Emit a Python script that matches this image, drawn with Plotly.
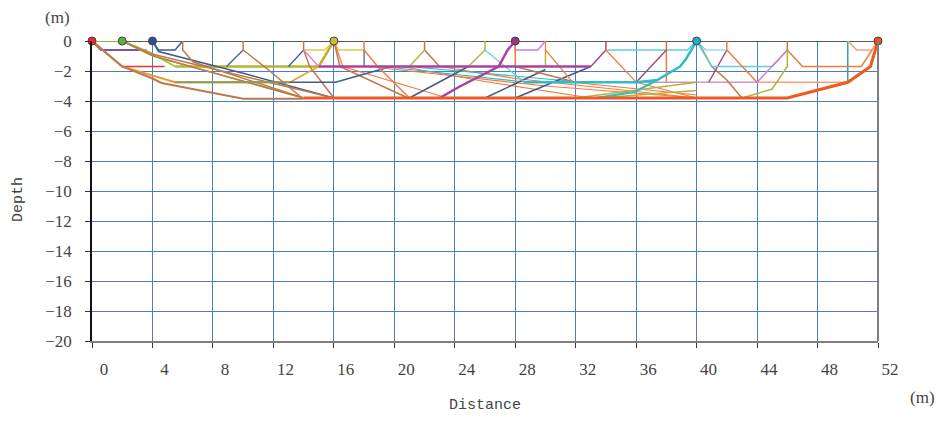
import plotly.graph_objects as go

# ---------------- data (distance m, depth m) ----------------
x_ticks = [0, 4, 8, 12, 16, 20, 24, 28, 32, 36, 40, 44, 48, 52]
y_ticks = [0, -2, -4, -6, -8, -10, -12, -14, -16, -18, -20]

source_x = [0, 2, 4, 16, 28, 40, 52]
source_y = [0, 0, 0, 0, 0, 0, 0]

surface_x = [0, 52]
surface_y = [0, 0]

# ray paths: name -> (distances, depths)
paths = {
    "s0_s2": ([0, 2], [0, 0]),
    "s0_purple": ([0, 0.6, 3.6], [0, -0.6, -0.6]),
    "s0_red": ([0, 2, 4.8], [0, -1.7, -1.7]),
    "s0_gold": ([0, 2, 5.5, 13.1], [0, -1.7, -2.75, -2.75]),
    "s0_bottom": ([0, 2, 4, 4.6, 10, 14], [0, -1.7, -2.5, -2.8, -3.85, -3.85]),
    "s2_lime": ([2, 3.9, 5.5], [0, -0.8, -1.7]),
    "s2_olive": ([5.5, 15, 16], [-1.7, -1.7, 0]),
    "s4_r6": ([4, 4.4, 5.5, 6], [0, -0.6, -0.6, 0]),
    "fan_blue": ([4, 4.4, 10, 16], [0, -0.7, -2.15, -3.8]),
    "fan_brown1": ([2, 3.9, 16], [0, -0.85, -3.8]),
    "fan_olive": ([2, 3.9, 14], [0, -0.95, -3.8]),
    "fan_brown2": ([2, 4.2, 14], [0, -1.05, -3.8]),
    "r6_brown": ([6, 6, 6.7, 14], [0, -0.6, -1.4, -3.8]),
    "og_l3": ([5.5, 13.1], [-2.75, -2.75]),
    "r10_blue": ([8.9, 10], [-1.7, -0.6]),
    "r10_brown": ([10, 10, 11.7, 13.9], [0, -0.6, -1.95, -3.8]),
    "r14_brown": ([14, 14, 14.4, 16], [0, -0.6, -1.7, -3.8]),
    "r14_blue": ([13, 14], [-1.7, -0.6]),
    "r14_lmag": ([14, 15], [-0.6, -1.7]),
    "s16_yellow1": ([16, 15.4, 14], [0, -0.6, -0.6]),
    "s16_gold": ([16, 15, 13.1], [0, -1.7, -2.75]),
    "s16_yellow2": ([16, 16.3, 18], [0, -0.6, -0.6]),
    "s16_brown": ([16, 16.4, 20.9], [0, -1.7, -3.8]),
    "s16_orange": ([16, 16.6, 23.5], [0, -1.7, -3.8]),
    "l3_blue": ([13.1, 16.1, 19.8], [-2.75, -2.75, -1.7]),
    "r18_blue": ([18, 18], [-0.6, -1.7]),
    "r18_orange": ([18, 18, 18.9, 21], [0, -0.6, -1.7, -3.8]),
    "x_orange1": ([19.2, 30, 40], [-1.8, -3.0, -3.8]),
    "x_orange2": ([23, 28, 40], [-1.7, -2.5, -3.8]),
    "x_orange3": ([20.5, 26, 33], [-1.7, -2.7, -3.8]),
    "x_cyan1": ([19.2, 28.8], [-1.7, -2.75]),
    "x_cyan2": ([21.5, 33], [-1.75, -2.8]),
    "r22_brown": ([22, 22, 23], [0, -0.6, -1.7]),
    "r22_olive": ([21, 22], [-1.7, -0.6]),
    "up_blue1": ([21, 24.9], [-3.8, -1.7]),
    "r26_olive": ([24.9, 26, 26], [-1.7, -0.6, 0]),
    "up_blue2": ([26, 30], [-3.8, -1.9]),
    "up_blue3": ([28, 33], [-3.8, -1.7]),
    "r26_cyan": ([26, 27.3, 28.6], [-0.6, -1.7, -2.75]),
    "s28_lmag": ([28, 28, 29.5, 30], [0, -0.6, -0.6, 0]),
    "s28_orange": ([28, 28], [0, -1.7]),
    "s28_brown": ([28, 32], [-1.7, -2.75]),
    "r30_olive": ([30, 30], [-0.6, -1.7]),
    "r30_orange": ([30, 30, 31.8, 40], [0, -0.6, -2.75, -3.6]),
    "r34_mauve": ([33, 34, 34], [-1.7, -0.6, 0]),
    "r34_orange": ([34, 36, 40], [-0.6, -2.75, -3.8]),
    "s40_lcyan": ([34.1, 39.4, 40], [-0.6, -0.6, 0]),
    "r38_brown": ([38, 38], [0, -0.6]),
    "r38_orange": ([38, 38], [-0.6, -2.75]),
    "r38_mauve": ([38, 36], [-0.6, -2.75]),
    "l3_lpurple": ([36, 44], [-2.75, -2.75]),
    "l3_salmon": ([44, 50], [-2.75, -2.75]),
    "up_olive1": ([32, 36, 40], [-3.8, -3.3, -2.75]),
    "up_olive2": ([33.5, 40], [-3.8, -3.3]),
    "s40_brown": ([40, 40.4, 41, 42, 43], [0, -0.6, -1.7, -2.6, -3.8]),
    "r42_mauve": ([42, 41.4, 40.8], [-0.6, -1.7, -2.75]),
    "s40_lcyan2": ([40, 40.6, 41.9], [0, -0.6, -0.6]),
    "s40_cyan2": ([40, 41, 45, 46], [0, -1.7, -1.7, -0.6]),
    "r42_orange": ([42, 42, 44], [0, -0.6, -2.75]),
    "r46_mag": ([44, 46], [-2.75, -0.6]),
    "r46_olive": ([43, 45, 46, 46], [-3.8, -3.2, -1.7, -0.6]),
    "r46_brown": ([46, 46], [0, -0.6]),
    "s52_orange": ([46, 47, 50.9, 52], [-0.6, -1.7, -1.7, 0]),
    "r50_teal": ([50, 50], [0, -2.75]),
    "s52_salmon": ([50, 50.6, 51.6, 52], [0, -0.6, -0.6, 0]),
    "s28_mag": ([28, 27.5, 26.9, 24.3, 23], [0, -0.6, -1.7, -3.05, -3.8]),
    "l2_magenta": ([15, 33], [-1.7, -1.7]),
    "s40_cyan": ([40, 39.3, 38.9, 37.4, 36, 28.6], [0, -1.2, -1.7, -2.6, -2.75, -2.75]),
    "s40_cyan_low": ([37.4, 35.9, 33.3], [-2.6, -3.4, -3.8]),
    "l4_thick": ([14, 46, 50, 51.5, 52], [-3.8, -3.8, -2.75, -1.7, 0]),
}

# ---------------- styles ----------------
C = dict(
    ORT="#F05A1E", OR="#F47A3C", SAL="#F5A07A", BR="#C0784A", OL="#B4B43A",
    YE="#D8CC4A", GO="#E0A030", DB="#3E5C8C", MG="#A8429E", LM="#D27CCB",
    CY="#2FBCC8", LC="#5ED0DA", TE="#3C9FA8", RD="#FF2A2A", GR="#7CBE3C",
    LI="#A6C83E", PU="#7C52A2", MV="#9A5080", LP="#CC98CC", OG="#8E9A5A",
)
style = {
    "s0_s2": ("GR", 2), "s0_purple": ("PU", 2), "s0_red": ("RD", 1.5),
    "s0_gold": ("GO", 2), "s0_bottom": ("BR", 2), "s2_lime": ("LI", 2),
    "s2_olive": ("OL", 2.5), "s4_r6": ("DB", 1.5), "fan_blue": ("DB", 1.5),
    "fan_brown1": ("BR", 1.5), "fan_olive": ("OL", 1.5), "fan_brown2": ("BR", 1.5),
    "r6_brown": ("BR", 1.5), "og_l3": ("OG", 2), "r10_blue": ("DB", 1.2),
    "r10_brown": ("BR", 1.5), "r14_brown": ("BR", 1.5), "r14_blue": ("DB", 1.2),
    "r14_lmag": ("LM", 1.2), "s16_yellow1": ("YE", 1.5), "s16_gold": ("GO", 1.5),
    "s16_yellow2": ("YE", 1.5), "s16_brown": ("BR", 1.5), "s16_orange": ("OR", 1.2),
    "l3_blue": ("DB", 1.5), "r18_blue": ("DB", 1.2), "r18_orange": ("OR", 1.5),
    "x_orange1": ("OR", 1.2), "x_orange2": ("OR", 1.2), "x_orange3": ("OR", 1.2),
    "x_cyan1": ("CY", 1.2), "x_cyan2": ("CY", 1.2), "r22_brown": ("BR", 1.5),
    "r22_olive": ("OL", 1.5), "up_blue1": ("DB", 1.5), "r26_olive": ("OL", 1.5),
    "up_blue2": ("DB", 1.5), "up_blue3": ("DB", 1.5), "r26_cyan": ("LC", 1.2),
    "s28_lmag": ("LM", 1.5), "s28_orange": ("OR", 1.5), "s28_brown": ("BR", 1.5),
    "r30_olive": ("OL", 1.5), "r30_orange": ("OR", 1.2), "r34_mauve": ("MV", 1.5),
    "r34_orange": ("OR", 1.2), "s40_lcyan": ("LC", 1.5), "r38_brown": ("BR", 1.5),
    "r38_orange": ("OR", 1.5), "r38_mauve": ("MV", 1.5), "l3_lpurple": ("LP", 1.5),
    "l3_salmon": ("SAL", 1.5), "up_olive1": ("OL", 1.5), "up_olive2": ("OL", 1.5),
    "s40_brown": ("BR", 1.5), "r42_mauve": ("MV", 1.5), "s40_lcyan2": ("LC", 1.2),
    "s40_cyan2": ("LC", 1.5), "r42_orange": ("OR", 1.5), "r46_mag": ("LM", 1.5),
    "r46_olive": ("OL", 1.5), "r46_brown": ("BR", 1.5), "s52_orange": ("OR", 1.5),
    "r50_teal": ("TE", 1.5), "s52_salmon": ("SAL", 1.5), "s28_mag": ("MG", 2.5),
    "l2_magenta": ("MG", 2.5), "s40_cyan": ("CY", 2.5), "s40_cyan_low": ("CY", 2),
    "l4_thick": ("ORT", 3),
}
dot_colors = ["#FF2020", "#5FB043", "#2F4F9A", "#C8C030", "#A03090", "#20B0C0", "#F05020"]

fig = go.Figure()
fig.add_trace(go.Scatter(x=surface_x, y=surface_y, mode="lines",
                         line=dict(color="#222222", width=1.5), hoverinfo="skip",
                         cliponaxis=False))
for name, (xs, ys) in paths.items():
    ck, w = style[name]
    fig.add_trace(go.Scatter(x=xs, y=ys, mode="lines", name=name,
                             line=dict(color=C[ck], width=w), cliponaxis=False))
fig.add_trace(go.Scatter(x=source_x, y=source_y, mode="markers",
                         marker=dict(size=8, color=dot_colors,
                                     line=dict(color="#444444", width=1)),
                         cliponaxis=False))

tick_font = dict(family="'Liberation Serif', 'DejaVu Serif', serif", size=17, color="#444444")
label_font = dict(family="'Liberation Mono', 'DejaVu Sans Mono', monospace", size=15, color="#444444")
fig.update_layout(
    width=940, height=421,
    margin=dict(l=92, r=62, t=41, b=80),
    paper_bgcolor="white", plot_bgcolor="white",
    showlegend=False,
    xaxis=dict(range=[0, 52], tickvals=x_ticks, ticktext=[str(v) for v in x_ticks],
               showgrid=True, gridcolor="#4A7CC8", gridwidth=1,
               zeroline=False, showline=True, linecolor="#808080", linewidth=2,
               ticks="outside", ticklen=5, tickcolor="#333333",
               tickfont=tick_font, ticklabelshift=12, ticklabelstandoff=7),
    yaxis=dict(range=[-20, 0], tickvals=y_ticks,
               showgrid=True, gridcolor="#4A7CC8", gridwidth=1,
               zeroline=False, showline=True, linecolor="#111111", linewidth=1.5,
               ticks="outside", ticklen=5, tickcolor="#333333",
               tickfont=tick_font, ticklabelstandoff=10),
    shapes=[dict(type="line", xref="paper", yref="paper", x0=1, x1=1, y0=0, y1=1,
                 line=dict(color="#808080", width=2))],
    annotations=[
        dict(text="Distance", xref="paper", yref="paper", x=0.5, y=0, yshift=-64,
             xanchor="center", yanchor="middle", showarrow=False, font=label_font),
        dict(text="Depth", xref="paper", yref="paper", x=0, y=0.47, xshift=-74,
             xanchor="center", yanchor="middle", textangle=-90,
             showarrow=False, font=label_font),
        dict(text="(m)", xref="paper", yref="paper", x=0, y=1, xshift=-35, yshift=24,
             xanchor="center", yanchor="middle", showarrow=False, font=tick_font),
        dict(text="(m)", xref="paper", yref="paper", x=1, y=0, xshift=44, yshift=-56,
             xanchor="center", yanchor="middle", showarrow=False, font=tick_font),
    ],
)
fig.write_html("out.html")
